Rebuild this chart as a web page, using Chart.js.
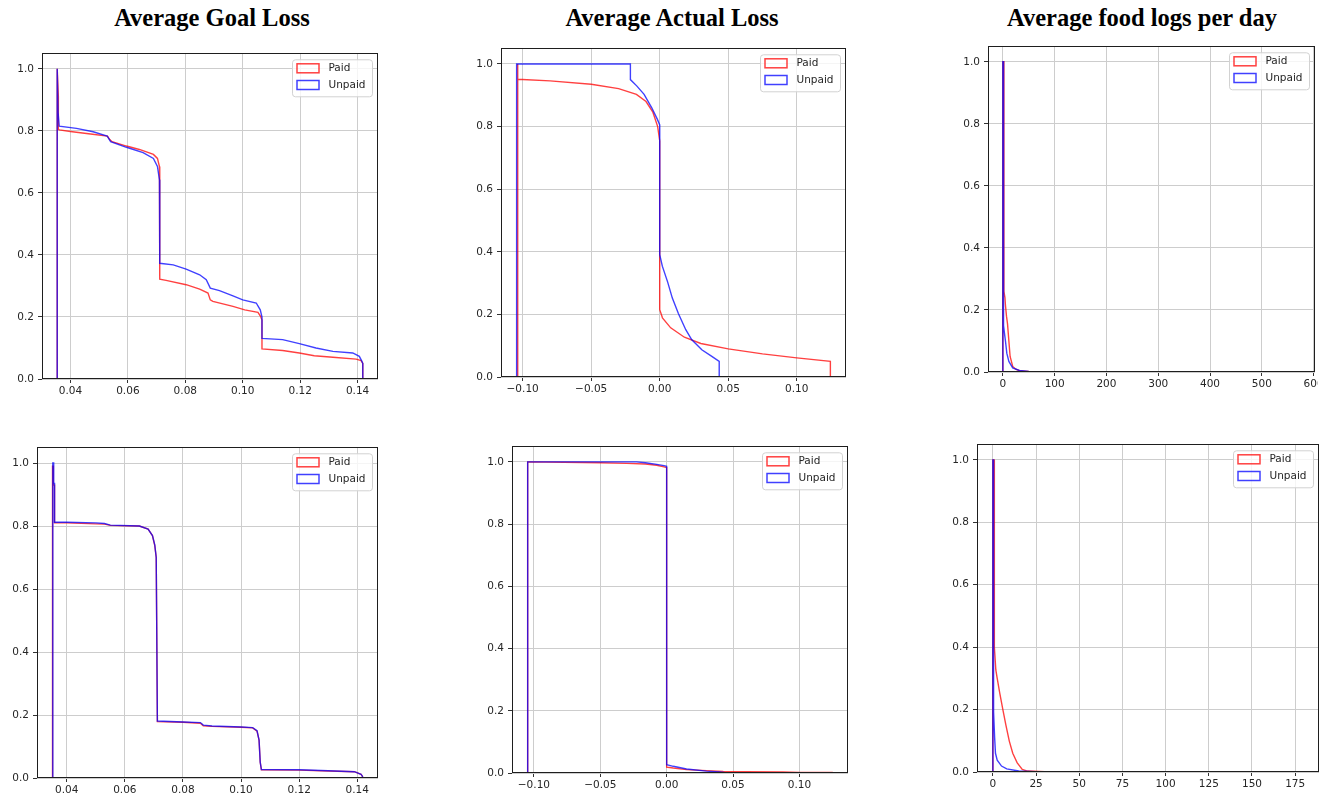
<!DOCTYPE html>
<html>
<head>
<meta charset="utf-8">
<script src="https://cdn.jsdelivr.net/npm/chart.js@4.4.1/dist/chart.umd.min.js"></script>
<style>
  html, body { margin: 0; padding: 0; background: #fff; }
  body { width: 1333px; height: 799px; position: relative; overflow: hidden; }
  .title {
    position: absolute; top: 6px; width: 400px; margin-left: -200px;
    text-align: center; white-space: nowrap; color: #000;
    font: bold 24.5px "Liberation Serif", "Times New Roman", serif; line-height: 24.5px;
  }
  .plot { position: absolute; overflow: hidden; }
  .plot canvas { display: block; }
</style>
</head>
<body>
<script>
// ---- data ----
const columnTitles = ['Average Goal Loss', 'Average Actual Loss', 'Average food logs per day'];
const seriesNames = ['Paid', 'Unpaid'];

const yTicks = [0, 0.2, 0.4, 0.6, 0.8, 1.0];
const yTickLabels = ['0.0', '0.2', '0.4', '0.6', '0.8', '1.0'];
const goalTicks = [0.04, 0.06, 0.08, 0.10, 0.12, 0.14];
const goalTickLabels = ['0.04', '0.06', '0.08', '0.10', '0.12', '0.14'];
const actualTicks = [-0.10, -0.05, 0, 0.05, 0.10];
const actualTickLabels = ['\u22120.10', '\u22120.05', '0.00', '0.05', '0.10'];
const foodTopTicks = [0, 100, 200, 300, 400, 500, 600];
const foodTopTickLabels = ['0', '100', '200', '300', '400', '500', '600'];
const foodBottomTicks = [0, 25, 50, 75, 100, 125, 150, 175];
const foodBottomTickLabels = ['0', '25', '50', '75', '100', '125', '150', '175'];

// top row
const goalTopPaidX = [0.0354, 0.0354, 0.0358, 0.0358, 0.0361, 0.040, 0.047, 0.0529, 0.0537, 0.0545, 0.0595, 0.064, 0.0689, 0.0703, 0.0710, 0.0711, 0.0711, 0.0733, 0.0803, 0.085, 0.0879, 0.0887, 0.0896, 0.0966, 0.1007, 0.1053, 0.1062, 0.1067, 0.1067, 0.1139, 0.1197, 0.1249, 0.1314, 0.1395, 0.1412, 0.1418, 0.1418];
const goalTopPaidY = [0, 1.0, 0.91, 0.805, 0.803, 0.798, 0.79, 0.783, 0.772, 0.765, 0.751, 0.74, 0.724, 0.711, 0.685, 0.62, 0.322, 0.318, 0.304, 0.29, 0.277, 0.255, 0.25, 0.234, 0.223, 0.215, 0.202, 0.19, 0.097, 0.092, 0.084, 0.075, 0.07, 0.064, 0.059, 0.05, 0];
const goalTopUnpaidX = [0.0354, 0.0354, 0.0357, 0.0361, 0.0421, 0.0479, 0.0528, 0.0540, 0.0595, 0.0653, 0.0689, 0.0703, 0.0710, 0.0711, 0.0711, 0.0758, 0.0803, 0.085, 0.0873, 0.0887, 0.0919, 0.0966, 0.100, 0.1047, 0.1061, 0.1067, 0.1067, 0.1139, 0.1197, 0.1255, 0.1314, 0.1383, 0.1406, 0.1415, 0.1418, 0.1418];
const goalTopUnpaidY = [0, 1.0, 0.86, 0.815, 0.808, 0.797, 0.783, 0.765, 0.747, 0.73, 0.711, 0.685, 0.642, 0.55, 0.373, 0.368, 0.354, 0.336, 0.32, 0.293, 0.285, 0.268, 0.255, 0.245, 0.223, 0.2, 0.131, 0.127, 0.114, 0.1, 0.089, 0.084, 0.073, 0.057, 0.05, 0];

const actualTopPaidX = [-0.1040, -0.1040, -0.1034, -0.1034, -0.08, -0.05, -0.03, -0.017, -0.010, -0.005, -0.0015, 0, 0, 0.002, 0.008, 0.018, 0.030, 0.050, 0.075, 0.100, 0.1245, 0.1245];
const actualTopPaidY = [0, 1.0, 1.0, 0.951, 0.946, 0.935, 0.921, 0.903, 0.88, 0.846, 0.80, 0.754, 0.215, 0.189, 0.157, 0.127, 0.107, 0.09, 0.074, 0.061, 0.05, 0];
const actualTopUnpaidX = [-0.1044, -0.1044, -0.0214, -0.0214, -0.0168, -0.0114, -0.0058, -0.0017, 0, 0, 0.0019, 0.0058, 0.0092, 0.0136, 0.019, 0.0234, 0.0307, 0.038, 0.0434, 0.0434];
const actualTopUnpaidY = [0, 1.0, 1.0, 0.95, 0.93, 0.903, 0.86, 0.823, 0.805, 0.391, 0.354, 0.303, 0.252, 0.203, 0.151, 0.119, 0.087, 0.066, 0.05, 0];

const foodTopPaidX = [0, 0, 2, 2, 4, 5, 7, 9, 11.6, 14, 19, 25, 32, 50, 100, 574, 574];
const foodTopPaidY = [0, 1.0, 1.0, 0.26, 0.24, 0.215, 0.18, 0.155, 0.10, 0.05, 0.018, 0.009, 0.004, 0.002, 0.001, 0.0005, 0];
const foodTopUnpaidX = [0, 0, 1.3, 1.3, 3, 5, 7.7, 11.6, 19, 32, 50, 89, 89];
const foodTopUnpaidY = [0, 1.0, 1.0, 0.15, 0.126, 0.10, 0.06, 0.034, 0.013, 0.005, 0.002, 0.001, 0];

// bottom row
const goalBottomPaidX = [0.0351, 0.0351, 0.0354, 0.0354, 0.0358, 0.0358, 0.040, 0.050, 0.053, 0.055, 0.065, 0.068, 0.0695, 0.0703, 0.0708, 0.0712, 0.080, 0.086, 0.087, 0.090, 0.100, 0.104, 0.1055, 0.1062, 0.1066, 0.1070, 0.120, 0.130, 0.139, 0.1413, 0.1418, 0.1418];
const goalBottomPaidY = [0, 0.99, 0.99, 0.93, 0.93, 0.81, 0.81, 0.807, 0.806, 0.802, 0.80, 0.79, 0.77, 0.738, 0.70, 0.179, 0.177, 0.174, 0.166, 0.164, 0.161, 0.159, 0.149, 0.12, 0.05, 0.026, 0.025, 0.022, 0.02, 0.012, 0.005, 0];
const goalBottomUnpaidX = [0.0352, 0.0352, 0.0355, 0.0355, 0.0358, 0.0358, 0.040, 0.050, 0.053, 0.055, 0.065, 0.068, 0.0695, 0.0703, 0.0708, 0.0712, 0.080, 0.086, 0.087, 0.090, 0.100, 0.104, 0.1055, 0.1062, 0.1066, 0.1070, 0.120, 0.130, 0.139, 0.1413, 0.1418, 0.1418];
const goalBottomUnpaidY = [0, 1.0, 1.0, 0.935, 0.935, 0.812, 0.812, 0.81, 0.808, 0.803, 0.80, 0.79, 0.77, 0.74, 0.70, 0.181, 0.178, 0.176, 0.168, 0.165, 0.162, 0.16, 0.15, 0.12, 0.05, 0.027, 0.026, 0.023, 0.02, 0.012, 0.005, 0];

const actualBottomPaidX = [-0.1047, -0.1047, -0.05, -0.03, -0.016, -0.0075, -0.002, 0, 0, 0.005, 0.015, 0.030, 0.0426, 0.060, 0.0877, 0.1000, 0.1246, 0.1246];
const actualBottomPaidY = [0, 1.0, 0.997, 0.995, 0.993, 0.989, 0.984, 0.982, 0.019, 0.016, 0.011, 0.0075, 0.005, 0.004, 0.003, 0.002, 0.0015, 0];
const actualBottomUnpaidX = [-0.1047, -0.1047, -0.0226, -0.016, -0.0075, -0.002, 0, 0, 0.005, 0.015, 0.030, 0.040, 0.0431, 0.0431];
const actualBottomUnpaidY = [0, 1.0, 1.0, 0.997, 0.992, 0.988, 0.986, 0.027, 0.0215, 0.013, 0.006, 0.003, 0.002, 0];

const foodBottomPaidX = [0, 0, 0.7, 0.7, 1.0, 1.7, 2.5, 4, 5.8, 7.5, 9.5, 11.5, 14, 17, 20, 30, 60, 180, 180];
const foodBottomPaidY = [0, 1.0, 1.0, 0.468, 0.40, 0.327, 0.30, 0.252, 0.199, 0.151, 0.099, 0.06, 0.03, 0.0085, 0.003, 0.001, 0.0005, 0.0002, 0];
const foodBottomUnpaidX = [0, 0, 0.4, 0.4, 1.0, 1.5, 2.5, 5, 8, 15, 25, 34.4, 34.4];
const foodBottomUnpaidY = [0, 1.0, 1.0, 0.193, 0.111, 0.06, 0.038, 0.019, 0.01, 0.003, 0.001, 0.0005, 0];

// ---- layout ----
const AXIS_W = 40, AXIS_H = 28, PAD_T = 10, PAD_R = 20;
const TICK_FONT = { family: '"DejaVu Sans", sans-serif', size: 10.5 };
const TEXT = '#262626';
const RED = 'rgba(255, 0, 0, 0.75)';
const BLUE = 'rgba(0, 0, 255, 0.75)';

[212, 672, 1142].forEach((cx, i) => {
  const t = document.createElement('div');
  t.className = 'title';
  t.style.left = cx + 'px';
  t.textContent = columnTitles[i];
  document.body.appendChild(t);
});

// spine box + legend in the upper right, drawn matplotlib-style
const frameAndKey = {
  id: 'frameAndKey',
  afterDraw(chart) {
    const ctx = chart.ctx, a = chart.chartArea;
    ctx.save();
    ctx.strokeStyle = '#1e1e1e';
    ctx.lineWidth = 1;
    ctx.strokeRect(Math.round(a.left) + 0.5, Math.round(a.top) + 0.5,
      Math.round(a.right - a.left) - 1, Math.round(a.bottom - a.top) - 1);

    const w = 80, h = 37;
    const bx = a.right - 6 - w, by = a.top + 6;
    ctx.beginPath();
    ctx.roundRect(bx + 0.5, by + 0.5, w, h, 3);
    ctx.fillStyle = 'rgba(255,255,255,0.8)';
    ctx.fill();
    ctx.strokeStyle = '#d2d2d2';
    ctx.stroke();

    ctx.font = '10.5px "DejaVu Sans", sans-serif';
    ctx.textBaseline = 'middle';
    chart.data.datasets.forEach((ds, i) => {
      const py = by + 4.5 + i * 16.7;
      ctx.strokeStyle = ds.borderColor;
      ctx.lineWidth = 1.5;
      ctx.strokeRect(bx + 5, py, 22, 9);
      ctx.fillStyle = TEXT;
      ctx.fillText(ds.label, bx + 36.5, py + 4.8);
    });
    ctx.restore();
  }
};

function pts(xs, ys) {
  return xs.map((x, i) => ({ x: x, y: ys[i] }));
}

function makePlot(area, clipRight, xMin, xMax, xTicks, xLabels, paidX, paidY, unpaidX, unpaidY) {
  const [l, t, r, b] = area;
  const box = document.createElement('div');
  box.className = 'plot';
  const cw = (r - l) + AXIS_W + PAD_R;
  const ch = (b - t) + PAD_T + AXIS_H;
  box.style.left = (l - AXIS_W) + 'px';
  box.style.top = (t - PAD_T) + 'px';
  box.style.width = (clipRight ? clipRight - (l - AXIS_W) : cw) + 'px';
  box.style.height = ch + 'px';
  const cv = document.createElement('canvas');
  cv.width = cw;
  cv.height = ch;
  box.appendChild(cv);
  document.body.appendChild(box);

  const grid = { color: '#cdcdcd', lineWidth: 1, tickColor: '#333', tickLength: 4, drawTicks: true };

  new Chart(cv, {
    type: 'line',
    data: {
      datasets: [
        // blue is drawn over red, as in the original
        { label: seriesNames[0], data: pts(paidX, paidY), borderColor: RED, order: 2 },
        { label: seriesNames[1], data: pts(unpaidX, unpaidY), borderColor: BLUE, order: 1 }
      ]
    },
    options: {
      responsive: false,
      animation: false,
      devicePixelRatio: 1,
      layout: { padding: { left: 0, top: PAD_T, right: PAD_R, bottom: 0 } },
      elements: {
        line: { borderWidth: 1.4, tension: 0, fill: false },
        point: { radius: 0, hoverRadius: 0 }
      },
      scales: {
        x: {
          type: 'linear', min: xMin, max: xMax,
          afterBuildTicks: axis => { axis.ticks = xTicks.map(v => ({ value: v })); },
          afterFit: s => { s.height = AXIS_H; },
          ticks: { autoSkip: false, maxRotation: 0, padding: 2, color: TEXT, font: TICK_FONT,
                   callback: (v, i) => xLabels[i] },
          grid: grid,
          border: { display: false }
        },
        y: {
          type: 'linear', min: 0, max: 1.05,
          afterBuildTicks: axis => { axis.ticks = yTicks.map(v => ({ value: v })); },
          afterFit: s => { s.width = AXIS_W; },
          ticks: { autoSkip: false, padding: 4, color: TEXT, font: TICK_FONT,
                   callback: (v, i) => yTickLabels[i] },
          grid: grid,
          border: { display: false }
        }
      },
      plugins: { legend: { display: false }, tooltip: { enabled: false } }
    },
    plugins: [frameAndKey]
  });
}

makePlot([42, 53, 378, 379], 0, 0.0301, 0.1471, goalTicks, goalTickLabels,
  goalTopPaidX, goalTopPaidY, goalTopUnpaidX, goalTopUnpaidY);
makePlot([501, 48, 846, 377], 0, -0.1158, 0.1359, actualTicks, actualTickLabels,
  actualTopPaidX, actualTopPaidY, actualTopUnpaidX, actualTopUnpaidY);
makePlot([988, 46, 1315, 372], 1318, -28.7, 602.7, foodTopTicks, foodTopTickLabels,
  foodTopPaidX, foodTopPaidY, foodTopUnpaidX, foodTopUnpaidY);
makePlot([37, 447, 378, 778], 0, 0.02976, 0.14714, goalTicks, goalTickLabels,
  goalBottomPaidX, goalBottomPaidY, goalBottomUnpaidX, goalBottomUnpaidY);
makePlot([512, 446, 848, 773], 0, -0.1165, 0.1366, actualTicks, actualTickLabels,
  actualBottomPaidX, actualBottomPaidY, actualBottomUnpaidX, actualBottomUnpaidY);
makePlot([977, 444, 1319, 772], 0, -9.2, 188.8, foodBottomTicks, foodBottomTickLabels,
  foodBottomPaidX, foodBottomPaidY, foodBottomUnpaidX, foodBottomUnpaidY);
</script>
</body>
</html>
